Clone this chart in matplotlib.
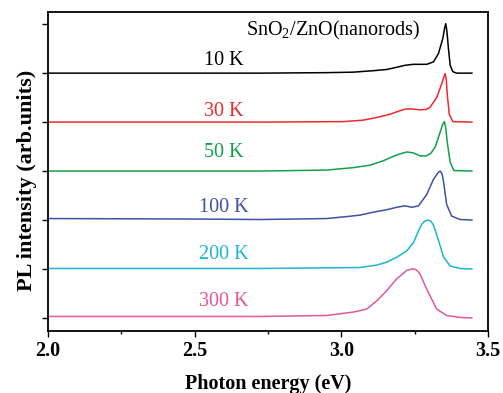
import matplotlib
matplotlib.use("Agg")
import matplotlib.pyplot as plt
from matplotlib.ticker import MultipleLocator

plt.rcParams['font.family'] = ['Liberation Serif', 'DejaVu Serif']

# PL spectra, each normalised to its own peak
x_10K = [2.0, 2.5, 2.723, 2.950, 3.041, 3.109, 3.155, 3.189, 3.217, 3.246, 3.291, 3.314,
         3.331, 3.346, 3.352, 3.356, 3.360, 3.365, 3.371, 3.380, 3.393, 3.445]
y_10K = [0.0, 0.0, 0.0, 0.01, 0.02, 0.05, 0.075, 0.12, 0.16, 0.18, 0.18, 0.23,
         0.40, 0.71, 0.92, 1.01, 0.85, 0.51, 0.16, 0.03, 0.0, 0.0]

x_30K = [2.0, 2.5, 2.723, 3.007, 3.075, 3.121, 3.166, 3.194, 3.217, 3.240, 3.268, 3.290,
         3.302, 3.325, 3.342, 3.350, 3.354, 3.358, 3.361, 3.368, 3.380, 3.445]
y_30K = [0.0, 0.0, 0.0, 0.01, 0.04, 0.095, 0.16, 0.22, 0.265, 0.27, 0.25, 0.26,
         0.30, 0.50, 0.78, 0.93, 0.99, 0.85, 0.57, 0.16, 0.01, 0.0]

x_50K = [2.0, 2.5, 2.723, 2.950, 3.041, 3.098, 3.143, 3.177, 3.200, 3.223, 3.246, 3.268,
         3.290, 3.305, 3.320, 3.337, 3.346, 3.351, 3.356, 3.361, 3.371, 3.384, 3.445]
y_50K = [0.0, 0.0, 0.0, 0.02, 0.07, 0.12, 0.21, 0.30, 0.35, 0.39, 0.37, 0.31,
         0.31, 0.36, 0.49, 0.80, 0.96, 1.01, 0.88, 0.59, 0.18, 0.01, 0.0]

x_100K = [2.0, 2.5, 2.723, 2.950, 3.018, 3.064, 3.109, 3.155, 3.189, 3.217, 3.240, 3.263,
          3.291, 3.314, 3.330, 3.337, 3.343, 3.348, 3.359, 3.376, 3.405, 3.445]
y_100K = [0.03, 0.02, 0.01, 0.03, 0.07, 0.10, 0.16, 0.21, 0.26, 0.29, 0.26, 0.29,
          0.52, 0.83, 0.97, 1.00, 0.95, 0.80, 0.32, 0.08, 0.01, 0.0]

x_200K = [2.0, 2.5, 2.723, 3.064, 3.121, 3.155, 3.189, 3.223, 3.246, 3.263, 3.275, 3.285,
          3.297, 3.306, 3.314, 3.331, 3.348, 3.371, 3.405, 3.445]
y_200K = [0.01, 0.01, 0.01, 0.03, 0.08, 0.14, 0.24, 0.37, 0.54, 0.78, 0.92, 0.98,
          1.00, 0.97, 0.90, 0.59, 0.25, 0.06, 0.01, 0.0]

x_300K = [2.0, 2.5, 2.723, 2.950, 3.041, 3.086, 3.121, 3.155, 3.189, 3.223, 3.240, 3.249,
          3.258, 3.268, 3.291, 3.325, 3.359, 3.405, 3.445]
y_300K = [0.03, 0.03, 0.03, 0.05, 0.12, 0.18, 0.35, 0.56, 0.80, 0.97, 1.00, 1.00,
          0.97, 0.90, 0.59, 0.18, 0.05, 0.01, 0.0]

labels = ["10 K", "30 K", "50 K", "100 K", "200 K", "300 K"]
offsets = [5, 4, 3, 2, 1, 0]
colors = ["#000000", "#ee2a2a", "#13a049", "#4050a6", "#1ab6d3", "#e2579f"]
label_dy = [0.25, 0.21, 0.37, 0.25, 0.29, 0.33]
xs = [x_10K, x_30K, x_50K, x_100K, x_200K, x_300K]
ys = [y_10K, y_30K, y_50K, y_100K, y_200K, y_300K]

fig = plt.figure(figsize=(5.03, 3.93), dpi=100)
ax = fig.add_axes([0.0954, 0.158, 0.8748, 0.811])

for x, y, off, c, lab, dy in zip(xs, ys, offsets, colors, labels, label_dy):
    ax.plot(x, [v + off for v in y], color=c, lw=1.1)
    ax.text(2.6, off + dy, lab, color=c, fontsize=14.5, ha='center', va='center')

ax.text(2.972, 5.88, r"SnO$_\mathregular{2}$/ZnO(nanorods)", fontsize=14.5,
        ha='center', va='center')

ax.set_xlim(2.0, 3.5)
ax.set_ylim(-0.265, 6.245)
ax.xaxis.set_major_locator(MultipleLocator(0.5))
ax.xaxis.set_minor_locator(MultipleLocator(0.25))
ax.set_yticks(range(7))
ax.set_yticklabels([])
ax.tick_params(which='major', direction='out', length=4, width=1.0)
ax.tick_params(which='minor', direction='out', length=2.5, width=1.0)
for lab in ax.get_xticklabels():
    lab.set_fontweight('bold')
    lab.set_fontsize(14.5)
for s in ax.spines.values():
    s.set_linewidth(1.3)

ax.set_xlabel("Photon energy (eV)", fontsize=14.5, fontweight='bold', labelpad=9)
ax.set_ylabel("PL intensity (arb.units)", fontsize=16, fontweight='bold')
ax.yaxis.set_label_coords(-0.025, 0.473)

fig.savefig("out.png", dpi=100)
